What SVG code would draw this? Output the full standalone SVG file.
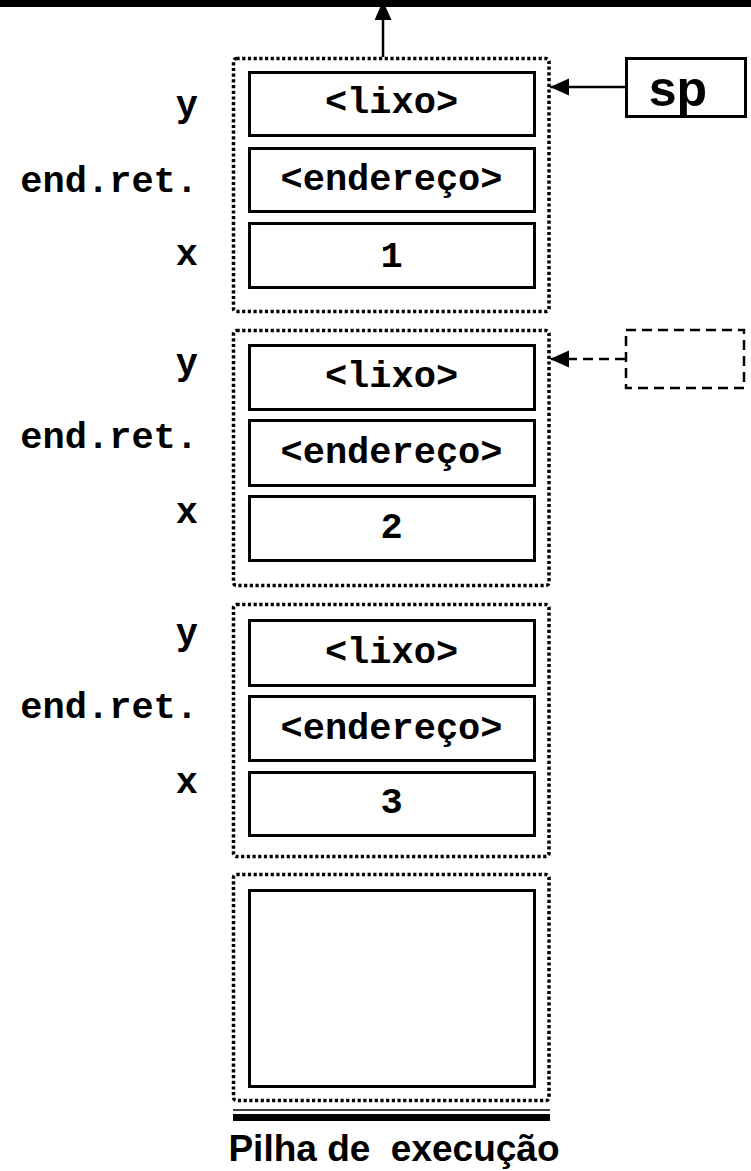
<svg xmlns="http://www.w3.org/2000/svg" width="751" height="1171" viewBox="0 0 751 1171">
<style>
.frame{fill:none;stroke:#000;stroke-width:3.5;stroke-dasharray:3.2 2.5}
.cell{fill:#fff;stroke:#000;stroke-width:3}
.mono{font-family:"Liberation Mono","Courier New",monospace;font-weight:bold;font-size:37px;fill:#000}
.ctr{text-anchor:middle}
.lbl{text-anchor:end}
.sans{font-family:"Liberation Sans",Arial,sans-serif;font-weight:bold;fill:#000}
.conn{fill:none;stroke:#000;stroke-width:2.5}
</style>
<defs>
<marker id="ah" markerWidth="20" markerHeight="18" refX="19" refY="8.5" orient="auto" markerUnits="userSpaceOnUse">
<path d="M0,0 L19,8.5 L0,17 Z" fill="#000"/>
</marker>
</defs>
<rect x="0" y="0" width="751" height="7" fill="#000"/>
<g id="frame1">
<rect class="frame" x="233.5" y="58.5" width="315.5" height="253" rx="3"/>
<rect class="cell" x="249.5" y="72.5" width="285" height="63"/>
<rect class="cell" x="249.5" y="148.5" width="285" height="63"/>
<rect class="cell" x="249.5" y="223.5" width="285" height="64"/>
<text class="mono ctr" x="391.5" y="113">&lt;lixo&gt;</text>
<text class="mono ctr" x="391.5" y="190">&lt;endereço&gt;</text>
<text class="mono ctr" x="391.5" y="267">1</text>
<text class="mono lbl" x="198" y="116">y</text>
<text class="mono lbl" x="198" y="192">end.ret.</text>
<text class="mono lbl" x="198" y="265">x</text>
</g>
<g id="frame2">
<rect class="frame" x="233.5" y="330.5" width="315.5" height="255" rx="3"/>
<rect class="cell" x="249.5" y="345.5" width="285" height="64"/>
<rect class="cell" x="249.5" y="420.5" width="285" height="65"/>
<rect class="cell" x="249.5" y="496.5" width="285" height="64"/>
<text class="mono ctr" x="391.5" y="387">&lt;lixo&gt;</text>
<text class="mono ctr" x="391.5" y="463">&lt;endereço&gt;</text>
<text class="mono ctr" x="391.5" y="538">2</text>
<text class="mono lbl" x="198" y="374">y</text>
<text class="mono lbl" x="198" y="448">end.ret.</text>
<text class="mono lbl" x="198" y="523">x</text>
</g>
<g id="frame3">
<rect class="frame" x="233.5" y="604.5" width="315.5" height="252" rx="3"/>
<rect class="cell" x="249.5" y="620.5" width="285" height="65"/>
<rect class="cell" x="249.5" y="696.5" width="285" height="64"/>
<rect class="cell" x="249.5" y="772.5" width="285" height="63"/>
<text class="mono ctr" x="391.5" y="663">&lt;lixo&gt;</text>
<text class="mono ctr" x="391.5" y="739">&lt;endereço&gt;</text>
<text class="mono ctr" x="391.5" y="813">3</text>
<text class="mono lbl" x="198" y="644">y</text>
<text class="mono lbl" x="198" y="718">end.ret.</text>
<text class="mono lbl" x="198" y="793">x</text>
</g>
<g id="frame4">
<rect class="frame" x="233.5" y="874.5" width="315.5" height="226" rx="3"/>
<rect class="cell" x="249.5" y="890.5" width="285" height="196"/>
</g>
<g id="base">
<line x1="233" y1="1110" x2="550" y2="1110" stroke="#000" stroke-width="1.5"/>
<rect x="233" y="1114" width="317" height="7" fill="#000"/>
<text class="sans" x="394" y="1161" font-size="37" text-anchor="middle" xml:space="preserve">Pilha de  execução</text>
</g>
<g id="sp">
<rect class="cell" x="626.5" y="58.5" width="119" height="58"/>
<text class="sans" x="678" y="106" font-size="50" text-anchor="middle">sp</text>
</g>
<g id="ghost">
<rect x="626" y="330" width="118" height="58" fill="none" stroke="#000" stroke-width="2.5" stroke-dasharray="10 6"/>
</g>
<g id="connectors">
<line class="conn" x1="383" y1="57" x2="383" y2="1" marker-end="url(#ah)"/>
<line class="conn" x1="625" y1="87" x2="550" y2="87" marker-end="url(#ah)"/>
<line class="conn" x1="625" y1="359" x2="550" y2="359" stroke-dasharray="10 6" marker-end="url(#ah)"/>
</g>
</svg>
